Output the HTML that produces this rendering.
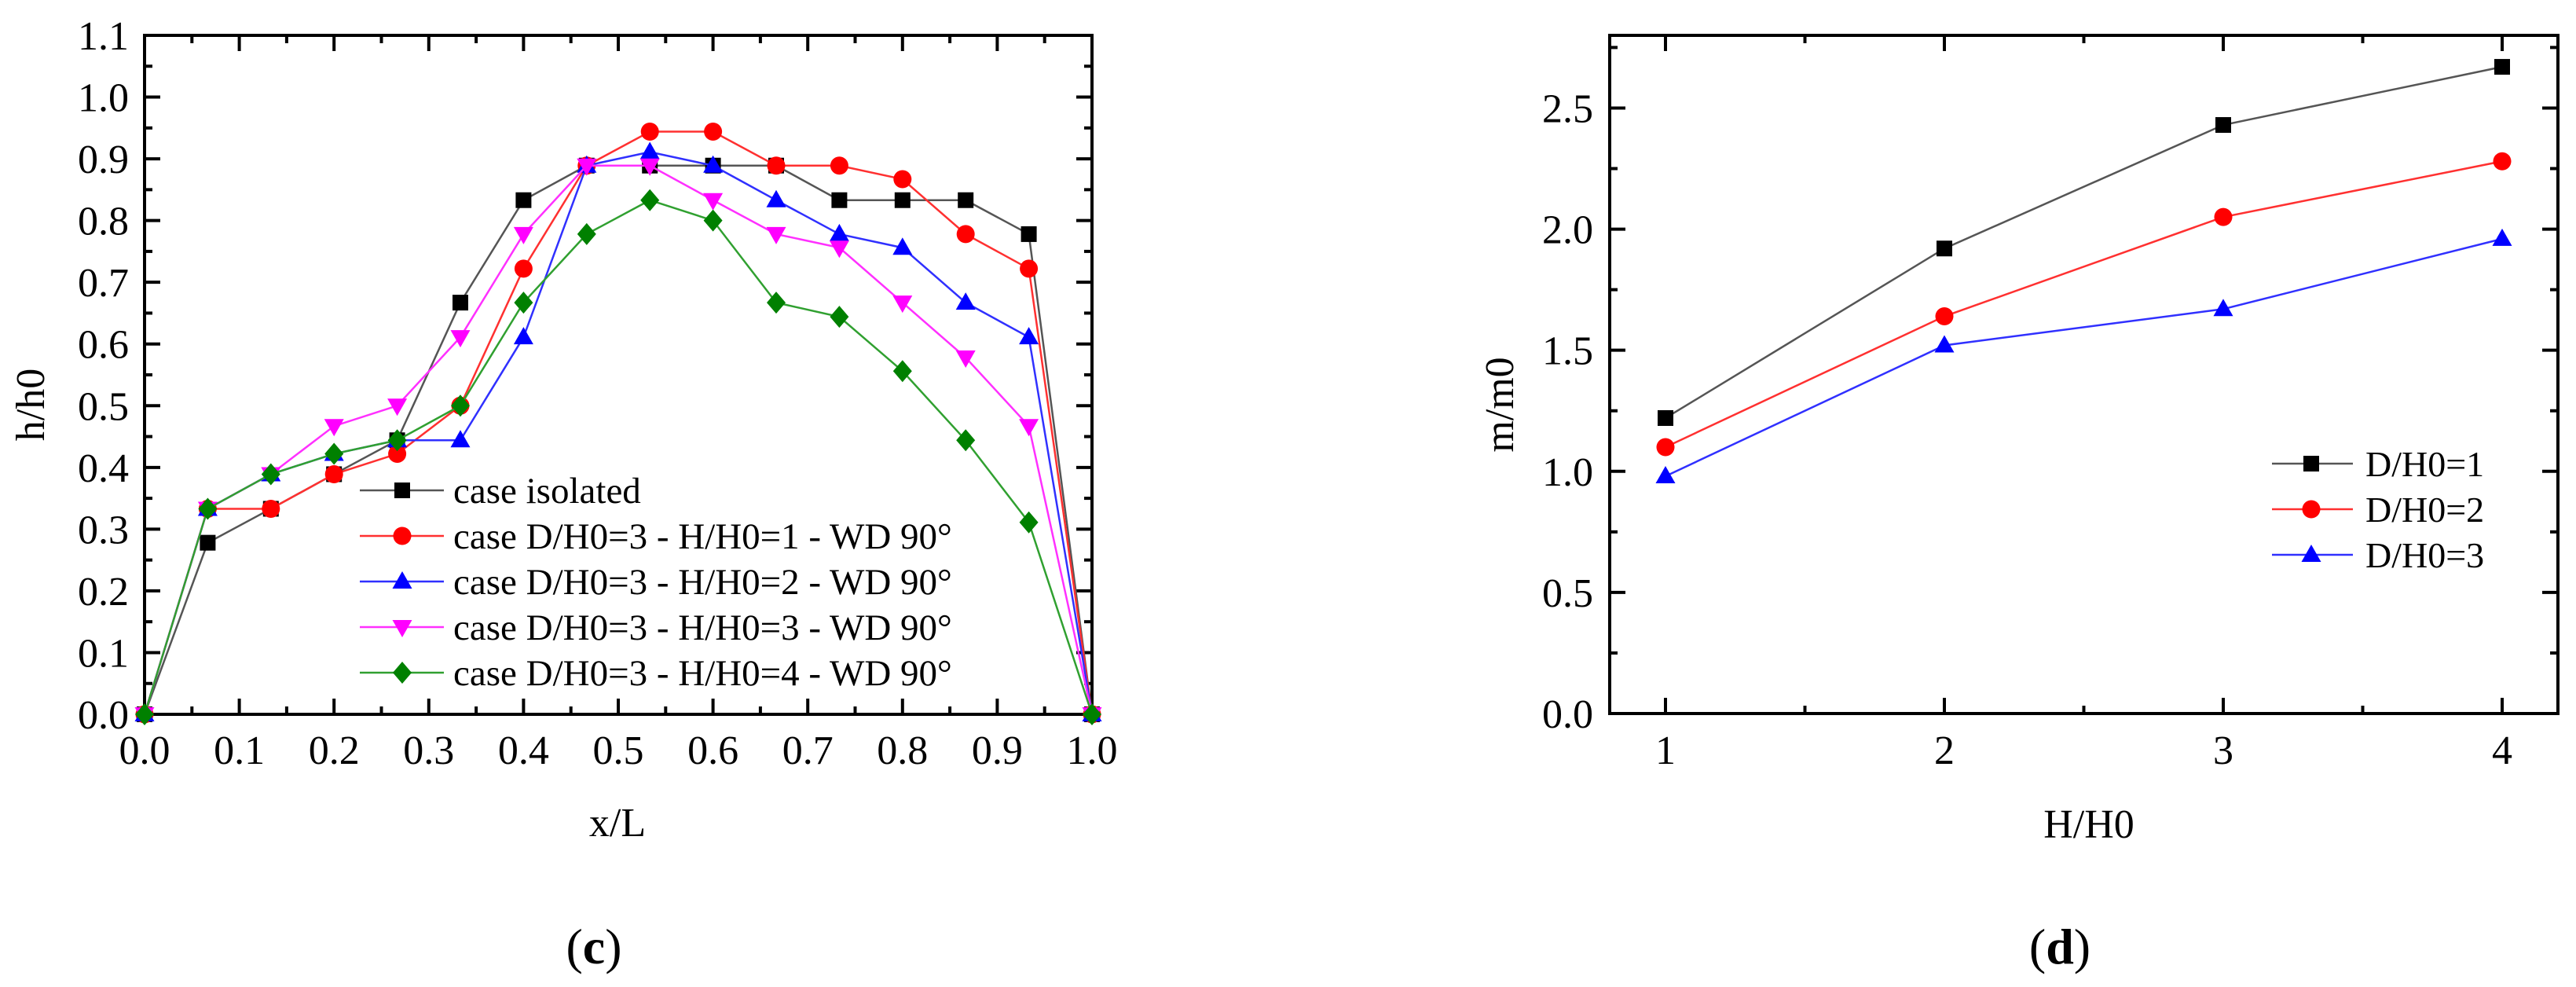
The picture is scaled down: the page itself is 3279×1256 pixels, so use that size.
<!DOCTYPE html>
<html><head><meta charset="utf-8"><style>
html,body{margin:0;padding:0;background:#fff;}
svg{display:block;font-family:"Liberation Serif",serif;}
</style></head><body>
<svg id="fig" width="3279" height="1256" viewBox="0 0 3279 1256" xmlns="http://www.w3.org/2000/svg">
<rect width="3279" height="1256" fill="#fff"/>
<g id="chartC"></g>
<g id="chartD"></g>
<text x="756" y="1226" font-size="64" text-anchor="middle">(<tspan font-weight="bold">c</tspan>)</text>
<text x="2622" y="1226" font-size="64" text-anchor="middle">(<tspan font-weight="bold">d</tspan>)</text>
</svg>
<script>
// ---- Chart (c) data ----
const cX = [0,1/15,2/15,3/15,4/15,5/15,6/15,7/15,8/15,9/15,10/15,11/15,12/15,13/15,14/15,1];
const cIsolated = [0,0.278,0.333,0.389,0.444,0.667,0.833,0.889,0.889,0.889,0.889,0.833,0.833,0.833,0.778,0];
const cH1 = [0,0.333,0.333,0.389,0.422,0.5,0.722,0.889,0.944,0.944,0.889,0.889,0.867,0.778,0.722,0];
const cH2 = [0,0.333,0.389,0.422,0.444,0.444,0.611,0.889,0.911,0.889,0.833,0.778,0.756,0.667,0.611,0];
const cH3 = [0,0.333,0.389,0.467,0.5,0.611,0.778,0.889,0.889,0.833,0.778,0.756,0.667,0.578,0.467,0];
const cH4 = [0,0.333,0.389,0.422,0.444,0.5,0.667,0.778,0.833,0.8,0.667,0.644,0.556,0.444,0.311,0];
const cXTicks = ["0.0","0.1","0.2","0.3","0.4","0.5","0.6","0.7","0.8","0.9","1.0"];
const cYTicks = ["0.0","0.1","0.2","0.3","0.4","0.5","0.6","0.7","0.8","0.9","1.0","1.1"];
const cLegend = ["case isolated","case D/H0=3 - H/H0=1 - WD 90°","case D/H0=3 - H/H0=2 - WD 90°","case D/H0=3 - H/H0=3 - WD 90°","case D/H0=3 - H/H0=4 - WD 90°"];
// ---- Chart (d) data ----
const dX = [1,2,3,4];
const dD1 = [1.22,1.92,2.43,2.67];
const dD2 = [1.10,1.64,2.05,2.28];
const dD3 = [0.98,1.52,1.67,1.96];
const dXTicks = ["1","2","3","4"];
const dYTicks = ["0.0","0.5","1.0","1.5","2.0","2.5"];
const dLegend = ["D/H0=1","D/H0=2","D/H0=3"];

const NS="http://www.w3.org/2000/svg";
function el(parent,tag,attrs,text){const e=document.createElementNS(NS,tag);for(const k in attrs)e.setAttribute(k,attrs[k]);if(text!==undefined)e.textContent=text;parent.appendChild(e);return e;}

function marker(g,type,cx,cy,color,s){
  let m;
  if(type==='square') m=el(g,'rect',{x:cx-s,y:cy-s,width:2*s,height:2*s,fill:color});
  else if(type==='circle') m=el(g,'circle',{cx:cx,cy:cy,r:s*1.15,fill:color});
  else if(type==='up') m=el(g,'polygon',{points:`${cx},${cy-s*1.3} ${cx+s*1.25},${cy+s*0.9} ${cx-s*1.25},${cy+s*0.9}`,fill:color});
  else if(type==='down') m=el(g,'polygon',{points:`${cx},${cy+s*1.3} ${cx+s*1.25},${cy-s*0.9} ${cx-s*1.25},${cy-s*0.9}`,fill:color});
  else m=el(g,'polygon',{points:`${cx},${cy-s*1.4} ${cx+s*1.2},${cy} ${cx},${cy+s*1.4} ${cx-s*1.2},${cy}`,fill:color});
  
  
  return m;
}

function frame(g,L,T,R,B,xMajors,xMinors,yMajors,yMinors,sx,sy){
  const f=el(g,'rect',{x:L,y:T,width:R-L,height:B-T,fill:'none',stroke:'#000','stroke-width':4});
  
  
  const tg=el(g,'g',{stroke:'#000','stroke-width':4});
  
  
  xMajors.forEach(v=>{const x=sx(v);el(tg,'line',{x1:x,y1:B,x2:x,y2:B-20});el(tg,'line',{x1:x,y1:T,x2:x,y2:T+20});});
  xMinors.forEach(v=>{const x=sx(v);el(tg,'line',{x1:x,y1:B,x2:x,y2:B-10});el(tg,'line',{x1:x,y1:T,x2:x,y2:T+10});});
  yMajors.forEach(v=>{const y=sy(v);el(tg,'line',{x1:L,y1:y,x2:L+20,y2:y});el(tg,'line',{x1:R,y1:y,x2:R-20,y2:y});});
  yMinors.forEach(v=>{const y=sy(v);el(tg,'line',{x1:L,y1:y,x2:L+10,y2:y});el(tg,'line',{x1:R,y1:y,x2:R-10,y2:y});});
}

// ---- chart c ----
(function(){
  const g=document.getElementById('chartC');
  const L=184,R=1390,T=45,B=909;
  const sx=v=>L+(R-L)*v;
  const sy=v=>B-(B-T)*v/1.1;
  const xM=cXTicks.map(Number), xm=xM.slice(0,-1).map(v=>v+0.05);
  const yM=cYTicks.map(Number), ym=yM.slice(0,-1).map(v=>v+0.05);
  frame(g,L,T,R,B,xM,xm,yM,ym,sx,sy);
  cXTicks.forEach(t=>{const e=el(g,'text',{x:sx(Number(t)),y:972,'font-size':52,'text-anchor':'middle'},t);
    });
  cYTicks.forEach(t=>{const e=el(g,'text',{x:164,y:sy(Number(t))+18,'font-size':52,'text-anchor':'end'},t);
    });
  const xt=el(g,'text',{x:786,y:1064,'font-size':52,'text-anchor':'middle'},'x/L');
  
  const yt=el(g,'text',{x:0,y:0,'font-size':52,'text-anchor':'middle',transform:'translate(56,515) rotate(-90)'},'h/h0');
  
  const cols=['#000','#ff0000','#0000ff','#ff00ff','#008000'];
  const types=['square','circle','up','down','diamond'];
  const lcols=['#555','#ff3030','#3030ff','#ff30ff','#30a030'];
  const data=[cIsolated,cH1,cH2,cH3,cH4];
  const names=['series-isolated','series-h1','series-h2','series-h3','series-h4'];
  data.forEach((d,i)=>{
    const sg=el(g,'g',{});
    
    
    el(sg,'polyline',{points:cX.map((x,j)=>`${sx(x)},${sy(d[j])}`).join(' '),fill:'none',stroke:lcols[i],'stroke-width':2.5});
    cX.forEach((x,j)=>marker(sg,types[i],sx(x),sy(d[j]),cols[i],10));
  });
  cLegend.forEach((t,i)=>{
    const y=624+i*58;
    const lg=el(g,'g',{});
    
    
    el(lg,'line',{x1:458,y1:y,x2:565,y2:y,stroke:lcols[i],'stroke-width':2.5});
    marker(lg,types[i],512,y,cols[i],10);
    el(lg,'text',{x:577,y:y+16,'font-size':47},t);
  });
})();

// ---- chart d ----
(function(){
  const g=document.getElementById('chartD');
  const L=2049,R=3256,T=45,B=908;
  const sx=v=>L+(R-L)*(v-0.8)/3.4;
  const sy=v=>B-(B-T)*v/2.8;
  const xM=dX, xm=[1.5,2.5,3.5];
  const yM=dYTicks.map(Number), ym=[0.25,0.75,1.25,1.75,2.25,2.75];
  frame(g,L,T,R,B,xM,xm,yM,ym,sx,sy);
  dXTicks.forEach(t=>{const e=el(g,'text',{x:sx(Number(t)),y:972,'font-size':52,'text-anchor':'middle'},t);
    });
  dYTicks.forEach(t=>{const e=el(g,'text',{x:2028,y:sy(Number(t))+18,'font-size':52,'text-anchor':'end'},t);
    });
  const xt=el(g,'text',{x:2659,y:1066,'font-size':52,'text-anchor':'middle'},'H/H0');
  
  const yt=el(g,'text',{x:0,y:0,'font-size':52,'text-anchor':'middle',transform:'translate(1926,515) rotate(-90)'},'m/m0');
  
  const cols=['#000','#ff0000','#0000ff'];
  const lcols=['#555','#ff3030','#3030ff'];
  const types=['square','circle','up'];
  const data=[dD1,dD2,dD3];
  const names=['series-d1','series-d2','series-d3'];
  data.forEach((d,i)=>{
    const sg=el(g,'g',{});
    
    
    el(sg,'polyline',{points:dX.map((x,j)=>`${sx(x)},${sy(d[j])}`).join(' '),fill:'none',stroke:lcols[i],'stroke-width':2.5});
    dX.forEach((x,j)=>marker(sg,types[i],sx(x),sy(d[j]),cols[i],10));
  });
  dLegend.forEach((t,i)=>{
    const y=590+i*58;
    const lg=el(g,'g',{});
    
    
    el(lg,'line',{x1:2892,y1:y,x2:2995,y2:y,stroke:lcols[i],'stroke-width':2.5});
    marker(lg,types[i],2942,y,cols[i],10);
    el(lg,'text',{x:3011,y:y+16,'font-size':46},t);
  });
})();
</script>
</body></html>
